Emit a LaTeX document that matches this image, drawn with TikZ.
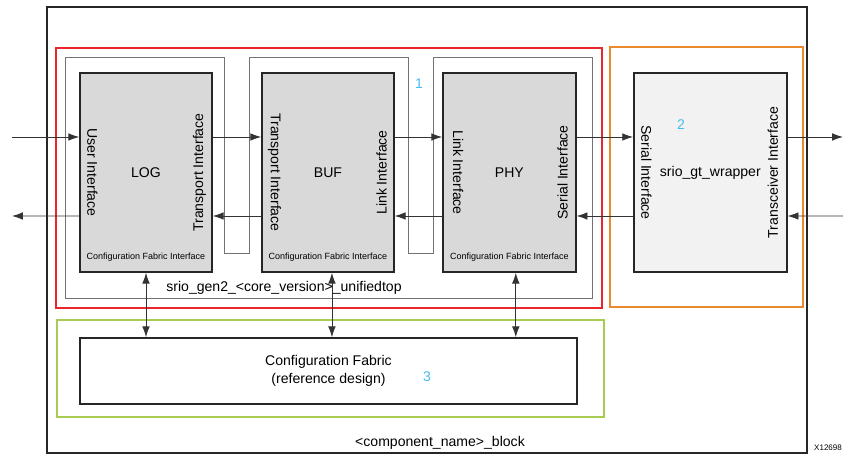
\documentclass[tikz,border=0pt]{standalone}
\usepackage{fontspec}
\setmainfont{Liberation Sans}
\usetikzlibrary{positioning, arrows.meta}

\definecolor{corered}{HTML}{E8262C}
\definecolor{gtorange}{HTML}{EA8A2E}
\definecolor{cfggreen}{HTML}{A8CC52}
\definecolor{tagblue}{HTML}{45BDF0}

\begin{document}
\begin{tikzpicture}[
    % Styles
    block/.style={draw=black!85, fill=black!15, line width=1.1pt, minimum width=3.3cm, minimum height=4.975cm, inner sep=0pt},
    gtblock/.style={block, fill=black!5, minimum width=3.825cm},
    frame/.style={line width=1.1pt},
    port/.style={font=\normalsize},
    cfi/.style={font=\fontsize{6.4}{7}\selectfont},
    sig/.style={-{Latex[length=2.7mm, width=1.9mm]}, line width=0.6pt, black!80},
    bisig/.style={{Latex[length=2.7mm, width=1.9mm]}-{Latex[length=2.7mm, width=1.9mm]}, line width=0.6pt, black!80},
    tag/.style={text=tagblue, font=\normalsize},
]

\useasboundingbox (0,0) rectangle (21.575,11.675);

% Outer block and coloured frames
\draw[frame, black!85] (1.175,0.35) rectangle (20.175,11.5);
\draw[frame, corered] (1.4,3.975) rectangle (15.05,10.475);
\draw[frame, gtorange] (15.25,4.0) rectangle (20.075,10.5);
\draw[frame, cfggreen] (1.425,1.25) rectangle (15.1,3.675);

% unifiedtop outline
\draw[black!55, line width=0.6pt] (1.625,10.25) -- (5.6,10.25) -- (5.6,5.35) -- (6.225,5.35) -- (6.225,10.25)
    -- (10.2,10.25) -- (10.2,5.35) -- (10.825,5.35) -- (10.825,10.25) -- (14.8,10.25) -- (14.8,4.225)
    -- (1.625,4.225) -- cycle;

% Core blocks
\node[block] (log) at (3.65,7.3625) {LOG};
\node[block, right=1.21cm of log] (buf) {BUF};
\node[block, right=1.185cm of buf, minimum width=3.325cm] (phy) {PHY};
\node[gtblock, right=1.41cm of phy] (gt) {srio\_gt\_wrapper};

% Interface labels
\node[port, rotate=-90] (log-user) at ([xshift=0.33cm]log.west) {User Interface};
\node[port, rotate=90] (log-trans) at ([xshift=-0.33cm]log.east) {Transport Interface};
\node[port, rotate=-90] (buf-trans) at ([xshift=0.33cm]buf.west) {Transport Interface};
\node[port, rotate=90] (buf-link) at ([xshift=-0.33cm]buf.east) {Link Interface};
\node[port, rotate=-90] (phy-link) at ([xshift=0.4cm]phy.west) {Link Interface};
\node[port, rotate=90] (phy-serial) at ([xshift=-0.35cm]phy.east) {Serial Interface};
\node[port, rotate=-90] (gt-serial) at ([xshift=0.33cm]gt.west) {Serial Interface};
\node[port, rotate=90] (gt-trans) at ([xshift=-0.37cm]gt.east) {Transceiver Interface};

\node[cfi] (log-cfi) at ([yshift=0.4cm]log.south) {Configuration Fabric Interface};
\node[cfi] (buf-cfi) at ([yshift=0.4cm]buf.south) {Configuration Fabric Interface};
\node[cfi] (phy-cfi) at ([yshift=0.4cm]phy.south) {Configuration Fabric Interface};

% Configuration fabric
\node[draw=black!85, line width=1.1pt, minimum width=12.425cm, minimum height=1.65cm, align=center] (cfg) at (8.2125,2.4)
    {Configuration Fabric\\[1pt](reference design)};

% Data path
\def\hi{0.8875cm}
\def\lo{-1.0875cm}
\coordinate (user-in) at (0.3,8.25);
\coordinate (user-out) at (0.3,6.275);
\coordinate (gt-out) at (21.075,8.25);
\coordinate (gt-in) at (21.075,6.275);

\draw[sig] (user-in) -- ([yshift=\hi]log.west);
\draw[sig] ([yshift=\lo]log.west) -- (user-out);
\draw[sig] ([yshift=\hi]log.east) -- ([yshift=\hi]buf.west);
\draw[sig] ([yshift=\lo]buf.west) -- ([yshift=\lo]log.east);
\draw[sig] ([yshift=\hi]buf.east) -- ([yshift=\hi]phy.west);
\draw[sig] ([yshift=\lo]phy.west) -- ([yshift=\lo]buf.east);
\draw[sig] ([yshift=\hi]phy.east) -- ([yshift=\hi]gt.west);
\draw[sig] ([yshift=\lo]gt.west) -- ([yshift=\lo]phy.east);
\draw[sig] ([yshift=\hi]gt.east) -- (gt-out);
\draw[sig] (gt-in) -- ([yshift=\lo]gt.east);

% Configuration links
\draw[bisig] (log.south) -- (log.south |- cfg.north);
\draw[bisig] ([xshift=0.1cm]buf.south) -- ([xshift=0.1cm]buf.south |- cfg.north);
\draw[bisig] ([xshift=0.16cm]phy.south) -- ([xshift=0.16cm]phy.south |- cfg.north);

% Labels
\node (top-name) at (7.1,4.475) {srio\_gen2\_<core\_version>\_unifiedtop};
\node (block-name) at (11.0,0.6) {<component\_name>\_block};
\node[font=\fontsize{5.7}{6}\selectfont] (fig-id) at (20.7,0.475) {X12698};
\node[tag] (tag-one) at (10.475,9.575) {1};
\node[tag] (tag-two) at (17.025,8.55) {2};
\node[tag] (tag-three) at (10.675,2.25) {3};

\end{tikzpicture}
\end{document}
